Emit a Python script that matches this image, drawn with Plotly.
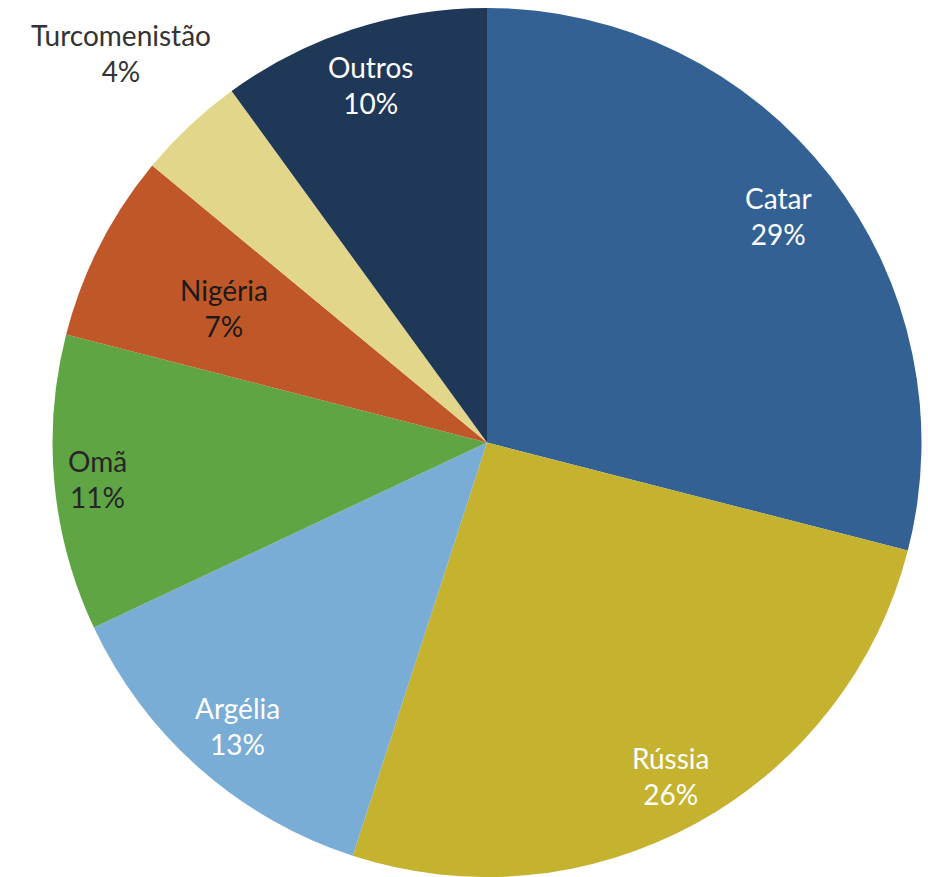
import math
import plotly.graph_objects as go

countries = ["Catar", "Rússia", "Argélia", "Omã", "Nigéria", "Turcomenistão", "Outros"]
shares = [29, 26, 13, 11, 7, 4, 10]
colors = ["#346194", "#C5B22F", "#7AADD5", "#60A544", "#C05728", "#E2D68A", "#1F3858"]
text_colors = ["white", "white", "white", "#262626", "#1a1a1a", "#333333", "white"]
# label distance from centre, as a fraction of the radius
label_r = [0.85, 0.875, 0.87, 0.90, 0.68, 1.23, 0.865]

W, H = 928, 877
cx, cy, R = 487, 442.5, 434.5

fig = go.Figure(go.Pie(
    labels=countries, values=shares,
    marker=dict(colors=colors, line=dict(width=0)),
    sort=False, direction="clockwise", rotation=0,
    textinfo="none", hoverinfo="label+percent",
    domain=dict(x=[(cx - R) / W, (cx + R) / W], y=[(H - cy - R) / H, (H - cy + R) / H]),
))

total = sum(shares)
cum = 0
for name, v, col, r in zip(countries, shares, text_colors, label_r):
    mid = (cum + v / 2) / total * 2 * math.pi
    cum += v
    px_x = cx + r * R * math.sin(mid)
    px_y = cy - r * R * math.cos(mid)
    fig.add_annotation(
        x=px_x / W, y=1 - px_y / H, xref="paper", yref="paper",
        xanchor="center", yanchor="middle",
        text=f"{name}<br>{round(v / total * 100)}%",
        showarrow=False, align="center",
        font=dict(family="Lato", size=28, color=col),
    )

fig.update_layout(
    width=W, height=H, autosize=False,
    margin=dict(l=0, r=0, t=0, b=0),
    showlegend=False,
    paper_bgcolor="white", plot_bgcolor="white",
)
fig.write_html("out.html", config={"displayModeBar": False},
               post_script="document.body.style.margin='0';document.body.style.overflow='hidden';")
